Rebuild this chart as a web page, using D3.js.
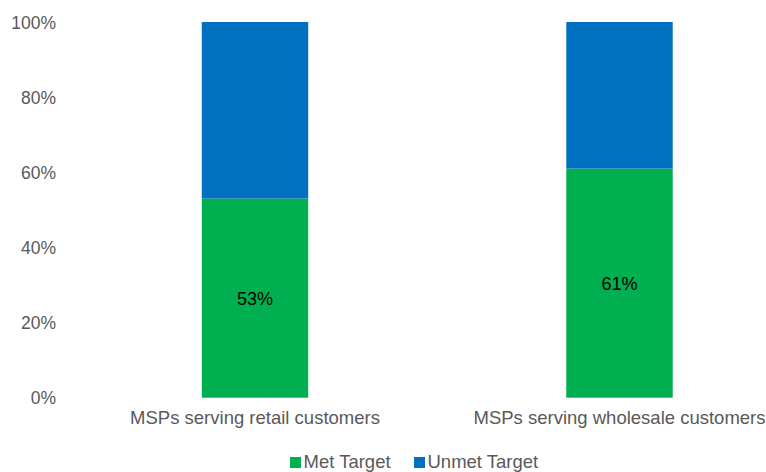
<!DOCTYPE html>
<html><head><meta charset="utf-8">
<script src="https://cdn.jsdelivr.net/npm/d3@7"></script>
<style>body{margin:0;background:#fff}svg{display:block}</style>
</head><body>
<svg id="c" width="766" height="472"></svg>
<script>
const categories = ["MSPs serving retail customers", "MSPs serving wholesale customers"];
const metTarget = [0.53, 0.61];
const unmetTarget = [0.47, 0.39];
const seriesNames = ["Met Target", "Unmet Target"];
const seriesColors = ["#00B050", "#0070C0"];
const yTicks = [0, 0.2, 0.4, 0.6, 0.8, 1.0];

const svg = d3.select("#c");
const font = "'Liberation Sans', Arial, sans-serif";
const y = d3.scaleLinear().domain([0, 1]).range([397.7, 22]);
const x = d3.scaleBand().domain(categories).range([72.75, 801.75]).paddingInner(0.708).paddingOuter(0.354);

const rows = categories.map((c, i) => ({cat: c, met: metTarget[i], unmet: unmetTarget[i]}));
const stack = d3.stack().keys(["met", "unmet"])(rows);

const yAxis = d3.axisLeft(y).tickValues(yTicks).tickFormat(d3.format(".0%")).tickSize(0).tickPadding(0);
const ga = svg.append("g").attr("transform", "translate(56,0)").call(yAxis);
ga.select(".domain").remove();
ga.selectAll("text").attr("font-family", font).attr("font-size", 17.5).attr("fill", "#595959").attr("dy", "0.35em");

stack.forEach((s, si) => {
  svg.append("g").selectAll("rect").data(s).join("rect")
    .attr("x", d => x(d.data.cat))
    .attr("width", x.bandwidth())
    .attr("y", d => y(d[1]))
    .attr("height", d => y(d[0]) - y(d[1]))
    .attr("fill", seriesColors[si]);
});

svg.append("g").selectAll("text").data(stack[0]).join("text")
  .attr("x", d => x(d.data.cat) + x.bandwidth() / 2)
  .attr("y", d => (y(d[0]) + y(d[1])) / 2 + 1)
  .attr("dy", "0.35em")
  .attr("text-anchor", "middle")
  .attr("font-family", font).attr("font-size", 18).attr("fill", "#000")
  .text(d => d3.format(".0%")(d.data.met));

const xAxis = d3.axisBottom(x).tickSize(0).tickPadding(0);
const gx = svg.append("g").attr("transform", "translate(0,409)").call(xAxis);
gx.select(".domain").remove();
gx.selectAll("text").attr("font-family", font).attr("font-size", 18.5).attr("fill", "#595959").attr("y", 0).attr("dy", 15);

const legendX = [290, 414];
const lg = svg.append("g");
seriesNames.forEach((n, i) => {
  lg.append("rect").attr("x", legendX[i]).attr("y", 457).attr("width", 11).attr("height", 11).attr("fill", seriesColors[i]);
  lg.append("text").attr("x", legendX[i] + 13.5).attr("y", 468)
    .attr("font-family", font).attr("font-size", 18.5).attr("fill", "#595959").text(n);
});
</script>
</body></html>
